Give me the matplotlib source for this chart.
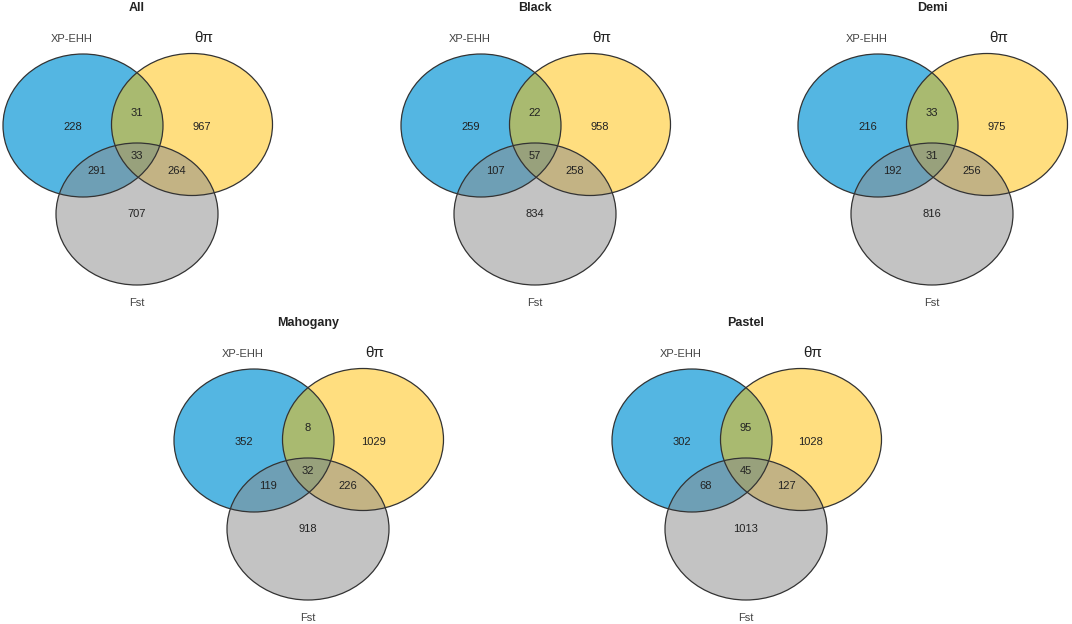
import matplotlib
matplotlib.use("Agg")
import matplotlib.pyplot as plt
from matplotlib.patches import Ellipse

plt.rcParams['font.family'] = ['Liberation Sans', 'DejaVu Sans']

# 五组数据, 每组区域顺序: 仅A, 仅B, 仅C, AB, AC, BC, ABC
panels = ["All", "Black", "Demi", "Mahogany", "Pastel"]
set_names = ["XP-EHH", "θπ", "Fst"]
only_a = [228, 259, 216, 352, 302]
only_b = [967, 958, 975, 1029, 1028]
only_c = [707, 834, 816, 918, 1013]
ab = [31, 22, 33, 8, 95]
ac = [291, 107, 192, 119, 68]
bc = [264, 258, 256, 226, 127]
abc = [33, 57, 31, 32, 45]

# 版面位置 (像素)
centers = [(137, 0), (535, 0), (932, 0), (308, 315), (746, 315)]

fig = plt.figure(figsize=(10.72, 6.24), dpi=100)
ax = fig.add_axes([0, 0, 1, 1])
ax.set_xlim(0, 1072)
ax.set_ylim(624, 0)
ax.axis("off")

fills = [((12/255, 152/255, 214/255), 0.7),
         ((1.0, 190/255, 0.0), 0.5),
         ((137/255, 137/255, 137/255), 0.5)]

for i, name in enumerate(panels):
    cx, y0 = centers[i]
    shapes = [((cx - 54, y0 + 125.5), 160, 143),
              ((cx + 55, y0 + 124.5), 161, 142),
              ((cx, y0 + 214), 162, 142)]
    for (xy, w, h), (col, al) in zip(shapes, fills):
        ax.add_patch(Ellipse(xy, w, h, facecolor=col, alpha=al, edgecolor="none"))
    for xy, w, h in shapes:
        ax.add_patch(Ellipse(xy, w, h, facecolor="none", edgecolor="#333333", lw=0.9))

    ax.text(cx, y0 + 8, name, ha="center", va="center", fontsize=9, fontweight="bold", color="#222222")
    ax.text(cx - 65, y0 + 39, set_names[0], ha="center", va="center", fontsize=8, color="#444444")
    ax.text(cx + 67, y0 + 38, set_names[1], ha="center", va="center", fontsize=11, color="#222222")
    ax.text(cx, y0 + 303, set_names[2], ha="center", va="center", fontsize=8, color="#444444")

    vals = [only_a[i], only_b[i], only_c[i], ab[i], ac[i], bc[i], abc[i]]
    pos = [(cx - 64, y0 + 127), (cx + 65, y0 + 127), (cx, y0 + 214),
           (cx, y0 + 113), (cx - 40, y0 + 171), (cx + 40, y0 + 171), (cx, y0 + 156)]
    for v, (px, py) in zip(vals, pos):
        ax.text(px, py, str(v), ha="center", va="center", fontsize=8, color="#222222")

fig.savefig("out.png", dpi=100)
